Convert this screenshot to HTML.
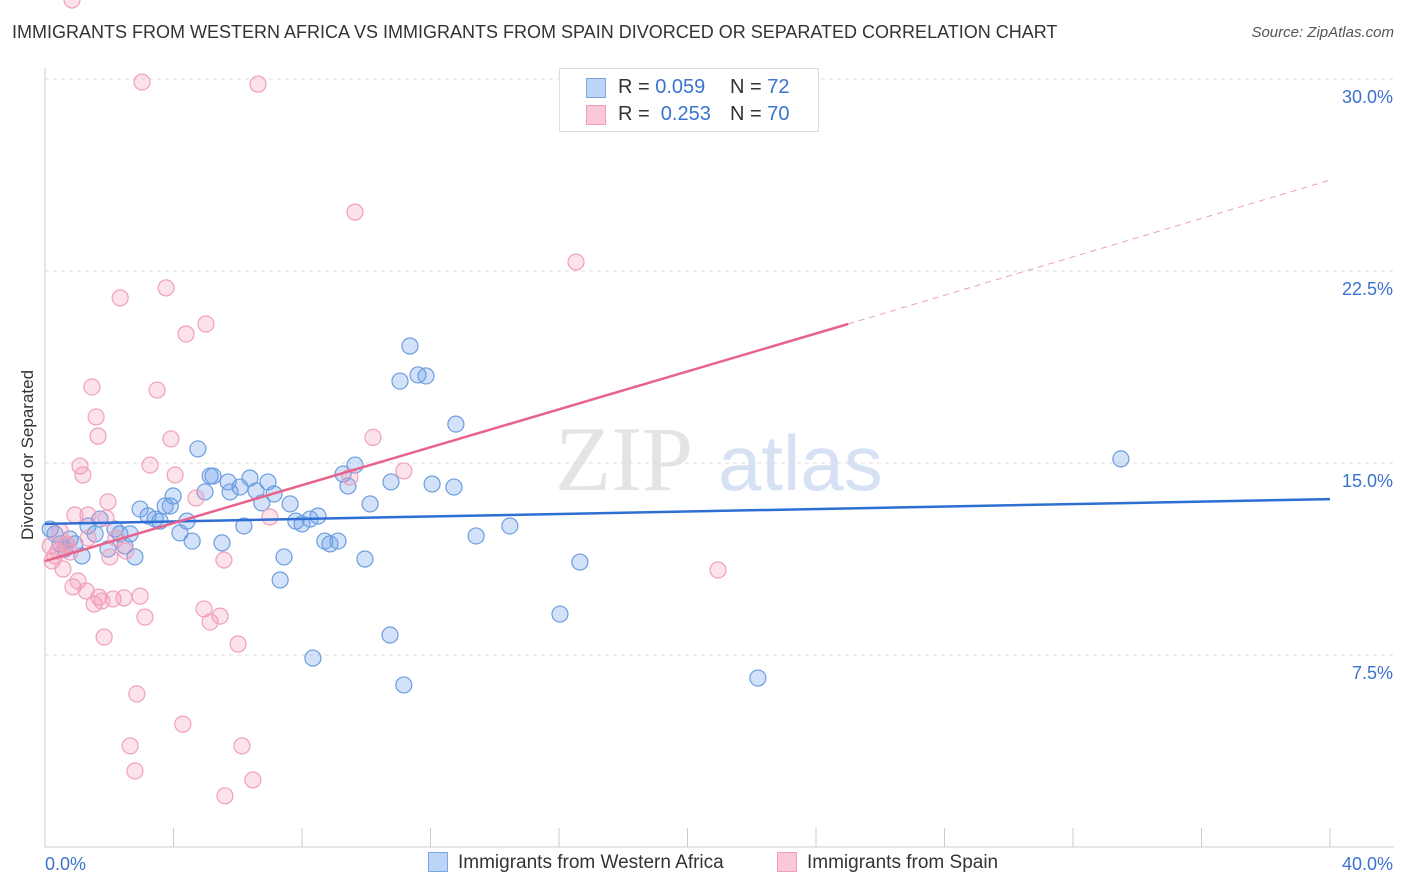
<!DOCTYPE html>
<html><head><meta charset="utf-8"><style>
body{margin:0;background:#fff;font-family:"Liberation Sans",sans-serif;}
#wrap{position:relative;width:1406px;height:892px;overflow:hidden;}
.t{position:absolute;white-space:nowrap;}
</style></head><body>
<div id="wrap">
<div class="t" style="left:12px;top:22px;font-size:18px;color:#333;">IMMIGRANTS FROM WESTERN AFRICA VS IMMIGRANTS FROM SPAIN DIVORCED OR SEPARATED CORRELATION CHART</div>
<div class="t" style="right:12px;top:24px;font-size:15px;color:#555;font-style:italic;">Source: ZipAtlas.com</div>
<svg id="svg" width="1406" height="892" style="position:absolute;left:0;top:0"></svg>
</div>
<script>
const xTicks=[0,40];
const yTicks=[7.5,15,22.5,30];
const blueX=[0.16,0.31,0.47,0.62,0.78,0.93,1.15,1.34,1.56,1.71,1.96,2.18,2.33,2.49,2.65,2.8,2.96,3.21,3.43,3.58,3.74,3.9,3.99,4.2,4.42,4.58,4.76,4.98,5.14,5.23,5.51,5.7,5.76,6.07,6.19,6.38,6.57,6.75,6.94,7.13,7.32,7.44,7.63,7.81,8,8.25,8.34,8.5,8.71,8.87,9.12,9.28,9.43,9.65,9.96,10.12,10.74,10.77,11.05,11.17,11.36,11.61,11.86,12.05,12.73,12.79,13.42,14.47,16.03,16.65,22.19,33.49];
const blueY=[12.42,12.23,11.84,11.64,12.03,11.84,11.37,12.54,12.23,12.81,11.64,12.42,12.23,11.76,12.23,11.33,13.2,12.93,12.81,12.73,13.32,13.32,13.71,12.27,12.73,11.95,15.55,13.87,14.49,14.49,11.88,14.26,13.87,14.06,12.54,14.41,13.91,13.44,14.26,13.79,10.43,11.33,13.4,12.73,12.62,12.81,7.38,12.93,11.95,11.84,11.95,14.57,14.1,14.92,11.25,13.4,8.28,14.26,18.2,6.33,19.57,18.44,18.4,14.18,14.06,16.52,12.15,12.54,9.10,11.13,6.6,15.16];
const pinkX=[0.16,0.22,0.31,0.4,0.47,0.56,0.65,0.78,0.87,0.93,1.03,1.09,1.18,1.28,1.34,1.46,1.53,1.59,1.65,1.68,1.77,1.84,1.9,1.96,2.02,2.12,2.21,2.34,2.46,2.52,2.65,2.8,2.86,2.96,3.02,3.11,3.27,3.49,3.77,3.92,4.05,4.29,4.39,4.7,4.95,5.01,5.14,5.45,5.57,5.6,6.01,6.13,6.47,6.63,7.0,9.49,9.65,10.21,11.17,16.53,20.95,1.34,0.68,0.84];
const pinkY=[11.76,11.17,11.37,11.56,12.34,10.86,11.8,11.52,10.16,12.97,10.39,14.88,14.53,10,12.07,17.97,9.49,16.8,16.05,9.76,9.61,8.2,12.85,13.48,11.33,9.69,12.07,21.45,9.73,11.56,3.95,2.97,5.98,9.8,29.88,8.98,14.92,17.85,21.84,15.94,14.53,4.8,20.04,13.63,9.3,20.43,8.79,9.02,11.21,2.0,7.93,3.95,2.62,29.8,12.89,14.45,24.8,16.0,14.69,22.85,10.82,12.97,11.84];
const blueLine=[12.62,13.59];
const pinkLine=[11.17,20.43,26.05];
const X0=45,X1=1330,Y0=847,Y1=79;
const sx=v=>X0+(v-0)/(40-0)*(X1-X0);
const sy=v=>Y0-(v-0)/(30-0)*(Y0-Y1);
const svg=document.getElementById('svg');const NS='http://www.w3.org/2000/svg';
function mk(t,a){const e=document.createElementNS(NS,t);for(const k in a)e.setAttribute(k,a[k]);svg.appendChild(e);return e;}
// watermark
let w=mk('text',{x:555,y:490,'font-size':92,fill:'#e4e4e4','font-family':'Liberation Serif,serif'});w.textContent='ZIP';


let w2=mk('text',{x:718,y:490,'font-size':78,fill:'#d6e2f4','font-family':'Liberation Sans,sans-serif'});w2.textContent='atlas';


yTicks.forEach(v=>{
 const g=mk('line',{x1:45,x2:1394,y1:sy(v),y2:sy(v),stroke:'#ddd','stroke-dasharray':'4,4'});
 
 
 const t=mk('text',{x:1393,y:sy(v)+24,'text-anchor':'end','font-size':18,fill:'#3a73d0'});t.textContent=v.toFixed(1)+'%';
 
 
});
let ax=mk('line',{x1:45,x2:45,y1:68,y2:847,stroke:'#ccc'});


let bx=mk('line',{x1:45,x2:1394,y1:847,y2:847,stroke:'#ccc'});


for(let i=0;i<=10;i++){const x=sx(i*4);const tk=mk('line',{x1:x,x2:x,y1:828,y2:847,stroke:'#ccc'});
 
 }
xTicks.forEach((v,i)=>{const t=mk('text',{x:i?1393:45,y:870,'text-anchor':i?'end':'start','font-size':18,fill:'#3a73d0'});t.textContent=v.toFixed(1)+'%';
 
 });
let yt=mk('text',{x:0,y:0,'font-size':17,fill:'#333','text-anchor':'middle',transform:'translate(33,455) rotate(-90)'});yt.textContent='Divorced or Separated';


blueX.forEach((v,i)=>{const c=mk('circle',{cx:sx(v),cy:sy(blueY[i]),r:8,fill:'rgba(110,160,235,0.3)',stroke:'#6b9de0','stroke-width':1.2});
 
 });
pinkX.forEach((v,i)=>{const c=mk('circle',{cx:sx(v),cy:sy(pinkY[i]),r:8,fill:'rgba(245,150,180,0.28)',stroke:'#f0a0bb','stroke-width':1.2});
 
 });
let bl=mk('line',{x1:sx(0),y1:sy(blueLine[0]),x2:sx(40),y2:sy(blueLine[1]),stroke:'#2f6fd4','stroke-width':2.5});


let pl=mk('line',{x1:sx(0),y1:sy(pinkLine[0]),x2:sx(25),y2:sy(pinkLine[1]),stroke:'#e8628e','stroke-width':2.5});


let pd=mk('line',{x1:sx(25),y1:sy(pinkLine[1]),x2:sx(40),y2:sy(pinkLine[2]),stroke:'#eaa0b8','stroke-width':1,'stroke-dasharray':'6,5'});


</script>
<div style="position:absolute;left:559px;top:68px;width:258px;height:62px;border:1px solid #ddd;background:#fff;font-size:20px;color:#333;">
 <div style="position:absolute;left:26px;top:7px;width:220px;">
  <span style="position:absolute;left:0;top:2px;width:20px;height:20px;background:#bcd4f5;border:1px solid #7aa6e4;box-sizing:border-box"></span>
  <span style="position:absolute;left:32px;">R = <span style="color:#3a73d0">0.059</span></span>
  <span style="position:absolute;left:144px;">N = <span style="color:#3a73d0">72</span></span></div>
 <div style="position:absolute;left:26px;top:34px;width:220px;">
  <span style="position:absolute;left:0;top:2px;width:20px;height:20px;background:#fbc8d8;border:1px solid #f0a0bb;box-sizing:border-box"></span>
  <span style="position:absolute;left:32px;">R = <span style="color:#3a73d0">&nbsp;0.253</span></span>
  <span style="position:absolute;left:144px;">N = <span style="color:#3a73d0">70</span></span></div>
</div>
<div style="position:absolute;left:428px;top:852px;font-size:19px;color:#333;">
 <span style="position:absolute;left:0;top:0;white-space:nowrap;"><span style="display:inline-block;width:20px;height:20px;background:#bcd4f5;border:1px solid #7aa6e4;box-sizing:border-box;vertical-align:-4px;margin-right:10px"></span>Immigrants from Western Africa</span>
 <span style="position:absolute;left:349px;top:0;white-space:nowrap;"><span style="display:inline-block;width:20px;height:20px;background:#fbc8d8;border:1px solid #f0a0bb;box-sizing:border-box;vertical-align:-4px;margin-right:10px"></span>Immigrants from Spain</span>
</div>
</body></html>
